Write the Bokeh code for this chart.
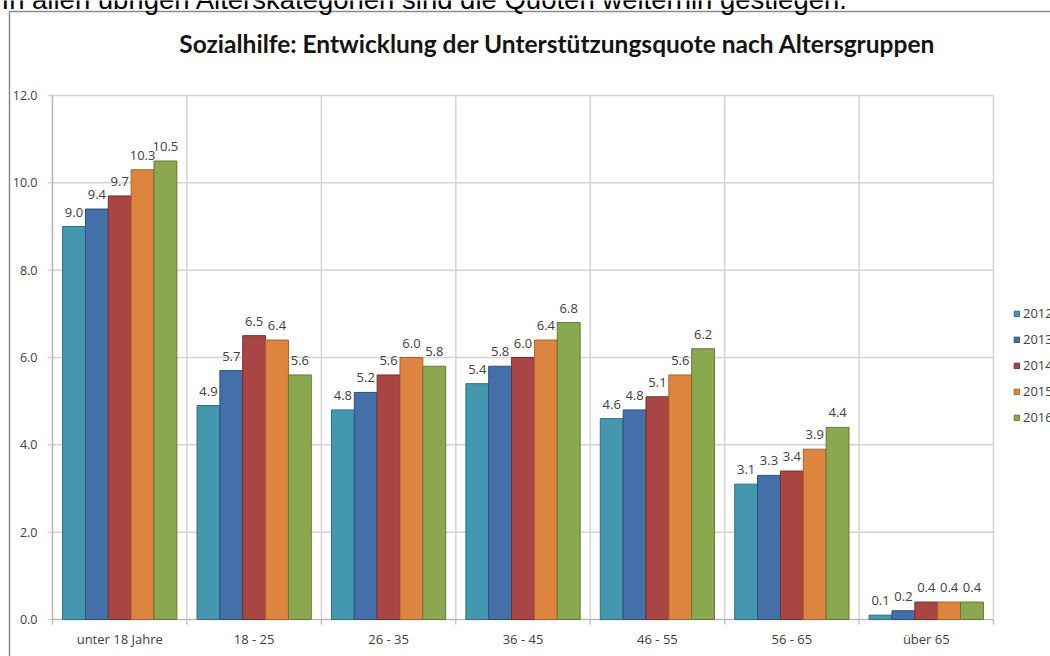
from bokeh.plotting import figure
from bokeh.models import (ColumnDataSource, Range1d, LabelSet, Label, Legend, LegendItem)
from bokeh.transform import dodge
from bokeh.core.properties import value
from bokeh.embed import file_html
from bokeh.resources import INLINE

# ---- data ----
categories = ["unter 18 Jahre", "18 - 25", "26 - 35", "36 - 45", "46 - 55", "56 - 65", "über 65"]
years = ["2012", "2013", "2014", "2015", "2016"]
q2012 = [9.0, 4.9, 4.8, 5.4, 4.6, 3.1, 0.1]
q2013 = [9.4, 5.7, 5.2, 5.8, 4.8, 3.3, 0.2]
q2014 = [9.7, 6.5, 5.6, 6.0, 5.1, 3.4, 0.4]
q2015 = [10.3, 6.4, 6.0, 6.4, 5.6, 3.9, 0.4]
q2016 = [10.5, 5.6, 5.8, 6.8, 6.2, 4.4, 0.4]
y_ticks = [0, 2, 4, 6, 8, 10, 12]
title_text = "Sozialhilfe: Entwicklung der Unterstützungsquote nach Altersgruppen"
intro_text = "In allen übrigen Alterskategorien sind die Quoten weiterhin gestiegen."

# ---- layout (pixels) ----
W, H = 1050, 656
PX_L, PX_R, PX_T, PX_B = 52, 993, 95, 619
n = len(categories)
y_max = 12
ppx = (PX_R - PX_L) / n          # pixels per category
ppy = (PX_B - PX_T) / y_max      # pixels per unit
x0 = -0.5 - PX_L / ppx
x1 = -0.5 + (W - PX_L) / ppx
y0 = -(H - PX_B) / ppy
y1 = PX_B / ppy

series = [q2012, q2013, q2014, q2015, q2016]
fills = ["#4398B0", "#4470A9", "#A94543", "#DD843E", "#8AA84F"]
edges = ["#2E6F82", "#2F4F7A", "#7A2E2C", "#A8612A", "#627A36"]
font = "Open Sans"

idx = list(range(n))
src = ColumnDataSource(data=dict(x=idx, cat=categories,
                                 **{f"y{y}": s for y, s in zip(years, series)},
                                 **{f"t{y}": [f"{v:.1f}" for v in s] for y, s in zip(years, series)}))
ysrc = ColumnDataSource(data=dict(y=y_ticks, t=[f"{v:.1f}" for v in y_ticks]))
bounds = [i - 0.5 for i in range(n + 1)]
bsrc = ColumnDataSource(data=dict(x=bounds))

p = figure(width=W, height=H, output_backend="svg", toolbar_location=None,
           x_range=Range1d(x0, x1), y_range=Range1d(y0, y1),
           x_axis_location=None, y_axis_location=None,
           min_border=0)
p.min_border_left = p.min_border_right = p.min_border_top = p.min_border_bottom = 0
p.outline_line_color = None
p.xgrid.visible = False
p.ygrid.visible = False
p.background_fill_color = "white"
p.border_fill_color = "white"

grid_col = "#d4d4d4"
axis_col = "#b4b4b4"
tick_x = 5 / ppx
tick_y = 5 / ppy

# chart-area frame
p.segment(x0=[x0 + 9 / ppx], y0=[y1 - 11 / ppy], x1=[x0 + 9 / ppx], y1=[y0], line_color="#8a8a8a", line_width=1.5)
p.segment(x0=[x0 + 9 / ppx], y0=[y1 - 11 / ppy], x1=[x1], y1=[y1 - 11 / ppy], line_color="#8a8a8a", line_width=1.5)

# gridlines
p.segment(x0="x", y0=0, x1="x", y1=y_max, source=bsrc, line_color=grid_col, line_width=1.5)
p.segment(x0=-0.5 - tick_x, y0="y", x1=n - 0.5, y1="y", source=ysrc, line_color=grid_col, line_width=1.5)
# axes
p.segment(x0=[-0.5], y0=[0], x1=[-0.5], y1=[y_max], line_color=axis_col, line_width=1.2)
p.segment(x0=[-0.5], y0=[0], x1=[n - 0.5], y1=[0], line_color=axis_col, line_width=1.2)
p.segment(x0="x", y0=-tick_y, x1="x", y1=0, source=bsrc, line_color=axis_col, line_width=1.2)

bw = 0.17
offsets = [(-2 + i) * bw for i in range(5)]
items = []
for y, off, fc, ec in zip(years, offsets, fills, edges):
    r = p.vbar(x=dodge("x", off, range=p.x_range), top=f"y{y}", bottom=0, width=bw, source=src,
               fill_color=fc, line_color=ec, line_width=1)
    items.append(LegendItem(label=y, renderers=[r]))
    p.add_layout(LabelSet(x=dodge("x", off, range=p.x_range), y=f"y{y}", text=f"t{y}",
                          source=src, text_align="center", text_baseline="alphabetic",
                          y_offset=10, text_font=value(font), text_font_size="13px",
                          text_color="#404040"))

# tick labels
p.add_layout(LabelSet(x="x", y=0, text="cat", source=src, y_offset=-24,
                      text_align="center", text_baseline="alphabetic",
                      text_font=value(font), text_font_size="13px", text_color="#404040"))
p.add_layout(LabelSet(x=-0.5, y="y", text="t", source=ysrc, x_offset=-15,
                      text_align="right", text_baseline="middle",
                      text_font=value(font), text_font_size="12.5px", text_color="#404040"))

legend = Legend(items=items, location=(1013, 229), orientation="vertical",
                glyph_width=7, glyph_height=7, label_height=20, spacing=6,
                padding=0, margin=0, border_line_color=None, background_fill_alpha=0,
                label_text_font=font, label_text_font_size="13px",
                label_text_color="#404040", label_standoff=3)
p.add_layout(legend, "center")

# titles (screen-unit labels; y measured from the bottom of the canvas)
p.add_layout(Label(x=557, y=H - 51 + 8, x_units="screen", y_units="screen", text=title_text,
                   text_align="center", text_baseline="alphabetic",
                   text_font="Lato", text_font_style="bold", text_font_size="24.5px",
                   text_color="#141414"))
p.add_layout(Label(x=1, y=H - 7 + 8, x_units="screen", y_units="screen", text=intro_text,
                   text_align="left", text_baseline="alphabetic",
                   text_font="Liberation Sans", text_font_size="27.5px", text_color="#000000"))

open("out.html", "w").write(file_html(p, INLINE))
